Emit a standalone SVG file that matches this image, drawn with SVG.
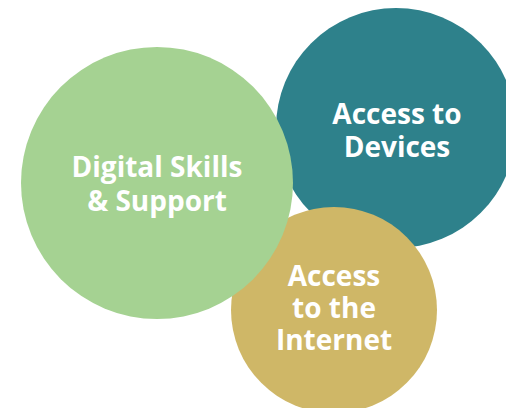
<svg xmlns="http://www.w3.org/2000/svg" width="506" height="408" viewBox="0 0 506 408">
<style>
text{font-family:"Open Sans","Liberation Sans",sans-serif;font-weight:bold;font-size:28px;fill:#ffffff;text-anchor:middle}
</style>
<rect width="506" height="408" fill="#ffffff"/>
<g id="devices">
<circle cx="396" cy="128" r="120" fill="#2E818B"/>
<text><tspan x="397" y="124">Access to</tspan><tspan x="397" y="157">Devices</tspan></text>
</g>
<g id="internet">
<circle cx="334" cy="310" r="103" fill="#CFB767"/>
<text><tspan x="334" y="286">Access</tspan><tspan x="334" y="318">to the</tspan><tspan x="334" y="350">Internet</tspan></text>
</g>
<g id="skills">
<circle cx="157" cy="183" r="136" fill="#A5D292"/>
<text><tspan x="157" y="177">Digital Skills</tspan><tspan x="157" y="211">&amp; Support</tspan></text>
</g>
<g id="connectors"/>
</svg>
